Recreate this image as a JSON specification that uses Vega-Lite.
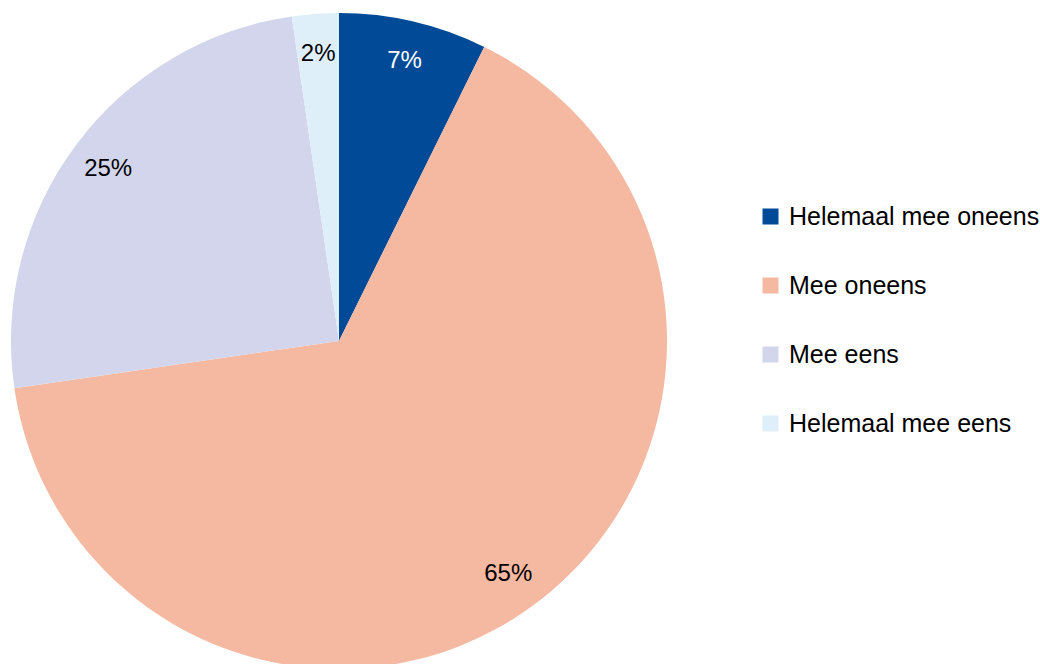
{
  "$schema": "https://vega.github.io/schema/vega-lite/v6.json",
  "width": 678,
  "height": 682,
  "padding": 0,
  "background": "white",
  "config": {"view": {"stroke": null}, "font": "Liberation Sans"},
  "data": {
    "values": [
      {"category": "Helemaal mee oneens", "value": 0.073, "order": 1},
      {"category": "Mee oneens", "value": 0.654, "order": 2},
      {"category": "Mee eens", "value": 0.25, "order": 3},
      {"category": "Helemaal mee eens", "value": 0.023, "order": 4}
    ]
  },
  "encoding": {
    "theta": {"field": "value", "type": "quantitative", "stack": true},
    "order": {"field": "order", "type": "quantitative"}
  },
  "layer": [
    {
      "mark": {"type": "arc", "radius": 328},
      "encoding": {
        "color": {
          "field": "category",
          "type": "nominal",
          "scale": {
            "domain": ["Helemaal mee oneens", "Mee oneens", "Mee eens", "Helemaal mee eens"],
            "range": ["#004A98", "#F5B8A0", "#D2D5EB", "#DFEFFA"]
          },
          "legend": {
            "title": null,
            "orient": "none",
            "legendX": 758,
            "legendY": 204,
            "padding": 0,
            "symbolType": "square",
            "symbolSize": 256,
            "symbolStrokeWidth": 0,
            "labelFont": "Liberation Sans",
            "labelFontSize": 25,
            "labelColor": "#000000",
            "labelOffset": 6,
            "labelLimit": 400,
            "rowPadding": 43
          }
        }
      }
    },
    {
      "mark": {"type": "text", "radius": 288, "fontSize": 24, "font": "Liberation Sans", "baseline": "middle", "align": "center"},
      "encoding": {
        "text": {"field": "value", "type": "quantitative", "format": ".0%"},
        "color": {
          "condition": {"test": "datum.category === 'Helemaal mee oneens'", "value": "#FFFFFF"},
          "value": "#000000"
        }
      }
    }
  ]
}
